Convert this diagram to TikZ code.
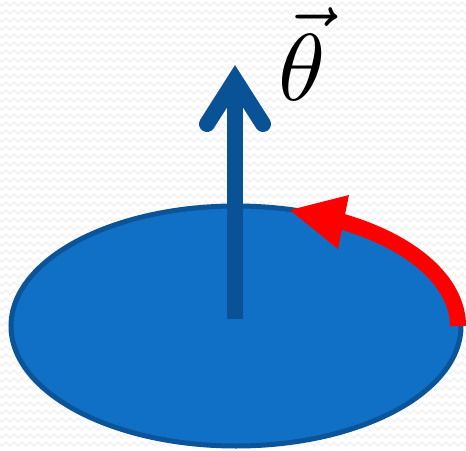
\documentclass[tikz,border=0pt]{standalone}
\usetikzlibrary{decorations.pathmorphing}
\definecolor{diskfill}{HTML}{1070C6}
\definecolor{diskedge}{HTML}{0B5497}
\definecolor{axisblue}{HTML}{0A5296}
\definecolor{bgzig}{HTML}{F4F4F4}
\begin{document}
\begin{tikzpicture}[x=1pt,y=-1pt,
  zigline/.style={draw=bgzig,line width=2,decorate,decoration={zigzag,segment length=8,amplitude=2}},
  disk/.style={fill=diskfill,draw=diskedge,line width=5},
  axisline/.style={draw=axisblue,line width=16},
  spinarrow/.style={draw=red,line width=16},
  label/.style={inner sep=0pt,scale=9.5}]
\useasboundingbox (0,0) rectangle (466,450);
\fill[white] (0,0) rectangle (466,450);
\foreach \yy in {4,12,...,450} {
  \draw[zigline] (-4,\yy) -- (470,\yy);
}
% disk
\coordinate (c) at (236,326);
\draw[disk] (c) ellipse[x radius=225,y radius=120];
% axis vector
\coordinate (base) at (235,319);
\coordinate (apex) at (235,80);
\coordinate (armL) at (207,124);
\coordinate (armR) at (263,124);
\draw[axisline,line cap=butt] (base) -- (apex);
\draw[axisline,line cap=round,line join=miter] (armL) -- (apex) -- (armR);
% label
\node[label] (theta) at (302,54) {$\vec{\theta}$};
% rotation arrow
\coordinate (arcstart) at (458,326);
\draw[spinarrow,line cap=butt] (arcstart) arc[start angle=0,end angle=-62,x radius=223,y radius=119] coordinate (arcend);
\coordinate (tip) at (290,210);
\coordinate (hb1) at (349,195);
\coordinate (hb2) at (338,249);
\fill[red] (tip) -- (hb1) -- (hb2) -- cycle;
\end{tikzpicture}
\end{document}
